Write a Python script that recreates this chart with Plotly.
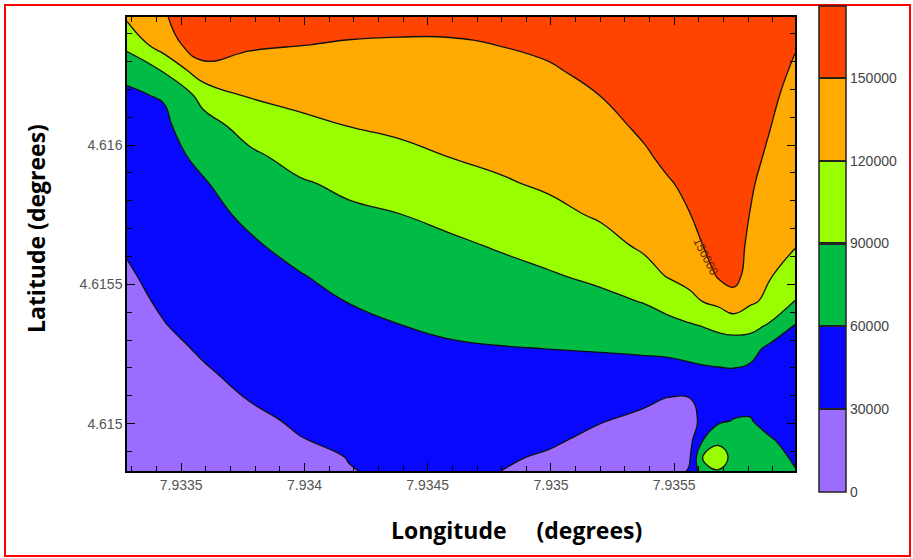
import plotly.graph_objects as go

# Grid coordinates (degrees)
lon = [7.93328, 7.93343, 7.93359, 7.93378, 7.93398, 7.93418, 7.93438, 7.93459, 7.93479, 7.93499,
       7.93520, 7.93538, 7.93548, 7.93556, 7.93562, 7.93568, 7.93574, 7.93581, 7.93589, 7.93599]
# latitudes listed from north (top) to south (bottom)
lat = [4.61646, 4.61636, 4.61627, 4.61618, 4.61607, 4.61596, 4.61586, 4.61575, 4.61564, 4.61553,
       4.61544, 4.61535, 4.61527, 4.61518, 4.61509, 4.61501, 4.61494, 4.61488, 4.61483]

# Field values, one list per longitude column (north -> south)
c01 = [124000, 99100, 65000, 57000, 50500, 46000, 41500, 37000, 32000, 27700, 24800, 21900, 19000, 16100, 13200, 10900, 8600, 6500, 5000]
c02 = [147000, 135000, 93500, 62000, 55000, 51000, 47500, 44000, 40000, 36100, 32700, 29200, 25200, 21300, 17300, 14100, 10900, 8100, 6000]
c03 = [175000, 168000, 139600, 100000, 79300, 66400, 57700, 53100, 48500, 43800, 40000, 36200, 32300, 27900, 22800, 18600, 14500, 10800, 8000]
c04 = [167500, 153500, 138750, 123100, 101250, 84900, 74700, 64400, 57100, 52000, 47800, 43600, 39300, 35100, 30800, 25500, 19400, 14000, 10000]
c05 = [161000, 150500, 138800, 127600, 113800, 99500, 86800, 77100, 67400, 58700, 54300, 49800, 45300, 40800, 36300, 32700, 29100, 25900, 23500]
c06 = [158000, 148200, 139400, 130600, 120500, 107700, 95300, 85000, 76200, 67400, 60500, 55300, 50600, 45900, 41300, 37500, 33800, 30400, 29500]
c07 = [156000, 147700, 140400, 133100, 124400, 113800, 101500, 89400, 81200, 72900, 66100, 59400, 54700, 50000, 45300, 41600, 37800, 34400, 32000]
c08 = [155000, 148200, 141900, 135600, 128100, 120500, 108500, 96200, 85800, 77500, 70600, 63600, 57400, 52100, 46700, 42400, 38100, 34300, 31500]
c09 = [154000, 150200, 144400, 138700, 132000, 125200, 117100, 104600, 92100, 82200, 74400, 66600, 59000, 53000, 46900, 42100, 37300, 32900, 30200]
c10 = [160000, 154000, 147900, 142500, 136100, 129600, 123200, 113400, 100100, 87400, 78300, 69100, 60200, 52500, 45000, 39000, 33000, 27600, 24500]
c11 = [165000, 161200, 155600, 150200, 143200, 136500, 129700, 122900, 111100, 95300, 83500, 72600, 61700, 50700, 39700, 30900, 24600, 19200, 15300]
c12 = [175000, 170000, 165000, 160000, 154000, 147400, 139700, 132100, 124400, 110300, 91500, 77700, 64300, 49100, 33200, 25500, 20000, 15000, 12000]
c13 = [178000, 174000, 170000, 166000, 161000, 155000, 148500, 139700, 130900, 122100, 101400, 81600, 66600, 48600, 29000, 22000, 17000, 14000, 12000]
c14 = [175000, 172000, 170000, 167000, 163000, 159000, 154000, 149300, 138300, 127300, 113800, 86100, 69800, 51400, 29000, 22000, 20000, 24000, 33000]
c15 = [176000, 174000, 172000, 170000, 167000, 164000, 160000, 156000, 151000, 135600, 121200, 91000, 72100, 54000, 40000, 36000, 62000, 96000, 78000]
c16 = [177000, 175000, 173000, 171000, 169000, 166000, 163000, 160000, 156000, 153000, 127200, 96500, 74200, 55000, 45000, 56000, 82000, 108000, 88000]
c17 = [177000, 176000, 174000, 172000, 170000, 168000, 165000, 162000, 158000, 158000, 140000, 100400, 74500, 56000, 50000, 61000, 75000, 80000, 72000]
c18 = [175000, 172000, 169000, 166000, 162000, 158000, 153000, 149000, 146000, 140000, 124000, 99100, 70700, 52000, 55000, 61000, 74000, 78000, 72000]
c19 = [168000, 162000, 158000, 154000, 150500, 144900, 139200, 133500, 127800, 121000, 114000, 85000, 52000, 45000, 45000, 52000, 62000, 68000, 64000]
c20 = [160000, 151500, 147100, 143400, 139000, 134600, 130200, 125900, 121500, 106700, 89500, 58000, 45000, 40000, 42000, 48000, 52000, 57000, 61000]

columns = [c01, c02, c03, c04, c05, c06, c07, c08, c09, c10,
           c11, c12, c13, c14, c15, c16, c17, c18, c19, c20]

band_colors = ["#9b6cff", "#0808ff", "#00bb44", "#99ff00", "#ffaa00", "#ff4400"]
cb_ticks = [0, 30000, 60000, 90000, 120000, 150000]
cb_max = 176000
x_ticks = [7.9335, 7.934, 7.9345, 7.935, 7.9355]
y_ticks = [4.615, 4.6155, 4.616]

z_rows = [list(r) for r in zip(*columns)]
lat_asc = lat[::-1]
z_asc = z_rows[::-1]

W, H = 913, 558
L, R, T, B = 127, 118, 17, 87
pw, ph = W - L - R, H - T - B


def px_x(p):
    return (p - L) / pw


def px_y(p):
    return (H - B - p) / ph


fig = go.Figure()

fig.add_trace(go.Contour(
    x=lon, y=lat_asc, z=z_asc,
    autocontour=False,
    contours=dict(start=30000, end=150000, size=30000, coloring="fill", showlines=True),
    line=dict(color="#111111", width=1.3, smoothing=1.3),
    colorscale=[[i / 5, c] for i, c in enumerate(band_colors)],
    showscale=False,
    hoverinfo="skip",
))

# stepped colour scale for the legend bar (0 .. cb_max), with dark separators
hw = 0.0022
cb_scale = []
bounds = [v / cb_max for v in cb_ticks] + [1.0]
for k, col in enumerate(band_colors):
    lo, hi = bounds[k], bounds[k + 1]
    a = lo + (hw if k > 0 else 0)
    b = hi - (hw if k < len(band_colors) - 1 else 0)
    if k > 0:
        cb_scale.append([a, "#222222"])
    cb_scale.append([a, col])
    cb_scale.append([b, col])
    if k < len(band_colors) - 1:
        cb_scale.append([b, "#222222"])

fig.add_trace(go.Scatter(
    x=[None, None], y=[None, None], mode="markers",
    marker=dict(
        color=[0, cb_max], cmin=0, cmax=cb_max, colorscale=cb_scale, showscale=True,
        colorbar=dict(
            x=px_x(819), xanchor="left", thickness=27, thicknessmode="pixels",
            y=px_y(6), yanchor="top", len=(492 - 6) / ph, lenmode="fraction",
            xpad=0, ypad=0, outlinecolor="#222222", outlinewidth=1.5,
            tickvals=cb_ticks, ticktext=[str(v) for v in cb_ticks], ticks="",
            tickfont=dict(family="Liberation Sans", size=14, color="#444444"),
        ),
    ),
    hoverinfo="skip", showlegend=False,
))

tick_font = dict(family="Liberation Sans", size=14, color="#555555")
title_font = dict(family="Open Sans", size=23, color="black", weight="bold")

fig.update_xaxes(
    range=[lon[0], lon[-1]], tickvals=x_ticks, ticktext=[str(v) for v in x_ticks],
    ticks="inside", ticklen=8, tickwidth=1, tickcolor="black",
    minor=dict(ticks="inside", dtick=0.0001, tick0=7.9335, ticklen=5, tickcolor="black"),
    mirror="allticks", showline=True, linecolor="black", linewidth=1.5,
    showgrid=False, zeroline=False, tickfont=tick_font,
)
fig.update_yaxes(
    range=[lat_asc[0], lat_asc[-1]], tickvals=y_ticks, ticktext=[str(v) for v in y_ticks],
    ticks="inside", ticklen=8, tickwidth=1, tickcolor="black",
    minor=dict(ticks="inside", dtick=0.0001, tick0=4.615, ticklen=5, tickcolor="black"),
    mirror="allticks", showline=True, linecolor="black", linewidth=1.5,
    showgrid=False, zeroline=False, tickfont=tick_font,
)

# axis titles
fig.add_annotation(
    x=px_x(516), y=px_y(530), xref="paper", yref="paper", showarrow=False,
    text="Longitude&nbsp;&nbsp;&nbsp;&nbsp;&nbsp;(degrees)", font=title_font,
    xanchor="center", yanchor="middle",
)
fig.add_annotation(
    x=px_x(36), y=px_y(229), xref="paper", yref="paper", showarrow=False,
    text="Latitude (degrees)", font=title_font, textangle=-90,
    xanchor="center", yanchor="middle",
)

# contour label
fig.add_annotation(
    x=7.93563, y=4.61560, xref="x", yref="y", text="150000", showarrow=False,
    textangle=63, font=dict(family="Liberation Sans", size=12, color="#6b1e00"),
)

fig.add_shape(type="rect", xref="paper", yref="paper",
              x0=px_x(5), x1=px_x(910), y0=px_y(556), y1=px_y(5),
              line=dict(color="#ff0000", width=2), layer="above")

fig.update_layout(
    width=W, height=H, margin=dict(l=L, r=R, t=T, b=B, autoexpand=False),
    paper_bgcolor="white", plot_bgcolor="white", showlegend=False,
)

fig.write_html("out.html")
